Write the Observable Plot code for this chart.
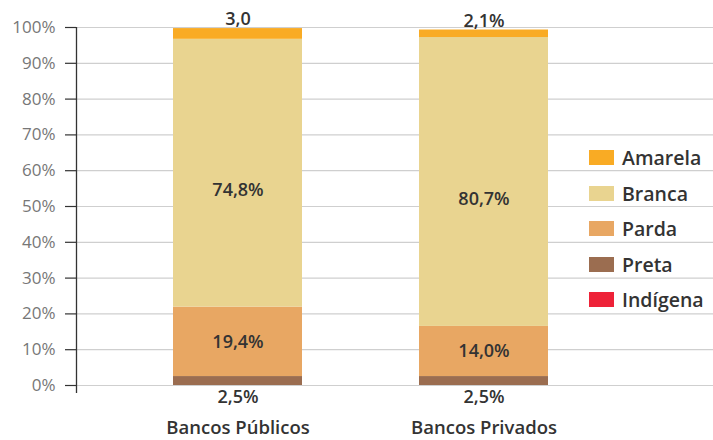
<!DOCTYPE html>
<html>
<head>
<meta charset="utf-8">
<script src="https://cdn.jsdelivr.net/npm/d3@7"></script>
<script src="https://cdn.jsdelivr.net/npm/@observablehq/plot@0.6"></script>
<style>
  body { margin: 0; background: #fff; }
  #wrap { position: relative; width: 713px; height: 440px; font-family: "Open Sans", sans-serif; }
  #legend { position: absolute; left: 589px; top: 140px; }
  .row { display: flex; align-items: center; height: 35.5px; }
  .sw { width: 25px; height: 15px; margin-right: 8px; }
  .lb { font-size: 19.5px; font-weight: 600; color: #333; }
</style>
</head>
<body>
<div id="wrap"><div id="legend"></div></div>
<script>
const banks = ["Bancos Públicos", "Bancos Privados"];
const races = ["Indígena", "Preta", "Parda", "Branca", "Amarela"]; // bottom to top
const legendOrder = ["Amarela", "Branca", "Parda", "Preta", "Indígena"];
const colors = ["#EE2238", "#9B6D50", "#E8A763", "#E9D490", "#F9AB24"];
const indigena = [0, 0];
const preta = [2.5, 2.5];
const parda = [19.4, 14.0];
const branca = [74.8, 80.7];
const amarela = [3.0, 2.1];
const amarelaLabels = ["3,0", "2,1%"];
const yTicks = [0, 10, 20, 30, 40, 50, 60, 70, 80, 90, 100];

const series = {"Indígena": indigena, "Preta": preta, "Parda": parda, "Branca": branca, "Amarela": amarela};
const fmt = v => v.toFixed(1).replace(".", ",") + "%";

const rows = [];
banks.forEach((b, i) => {
  let acc = 0;
  races.forEach(r => {
    const v = series[r][i];
    rows.push({bank: b, race: r, value: v, y1: acc, y2: acc + v, mid: acc + v / 2});
    acc += v;
  });
});
const rowOf = (race) => rows.filter(d => d.race === race);

const font = "Open Sans, sans-serif";
const lab = {fontSize: 18, fontWeight: 600, fill: "#333"};
const chart = Plot.plot({
  width: 713,
  height: 440,
  marginLeft: 76,
  marginRight: 0,
  marginTop: 27,
  marginBottom: 55,
  style: {fontFamily: font, background: "#fff"},
  x: {domain: banks, range: [76, 645], paddingInner: 0.474, paddingOuter: 0.389, axis: null},
  y: {domain: [0, 100], axis: null},
  color: {domain: races, range: colors},
  marks: [
    Plot.gridY(yTicks, {stroke: "#cfcfcf", strokeOpacity: 1, strokeWidth: 1.2}),
    Plot.axisY(yTicks, {tickSize: 11, tickPadding: 10, tickFormat: d => d + "%", fontSize: 17, stroke: "#333", fill: "#777", strokeWidth: 1.2}),
    Plot.axisX({tickSize: 0, tickPadding: 35, fontSize: 18.5, fontWeight: 600, fill: "#333", label: null}),
    Plot.rectY(rows.filter(d => d.value > 0), {x: "bank", y1: "y1", y2: "y2", fill: "race"}),
    Plot.text(rowOf("Branca"), {x: "bank", y: "mid", text: d => fmt(d.value), dy: 17, ...lab}),
    Plot.text(rowOf("Parda"), {x: "bank", y: "mid", text: d => fmt(d.value), ...lab}),
    Plot.text(rowOf("Preta"), {x: "bank", y: "y1", text: d => fmt(d.value), dy: 12, ...lab}),
    Plot.text(rowOf("Amarela"), {x: "bank", y: "y2", text: (d, i) => amarelaLabels[i], dy: -9, ...lab})
  ]
});
document.getElementById("wrap").prepend(chart);

// vertical axis line along the left edge of the frame
const ys = chart.scale("y");
d3.select(chart).append("line")
  .attr("x1", 76.5).attr("x2", 76.5)
  .attr("y1", ys.apply(100)).attr("y2", ys.apply(0) + 8)
  .attr("stroke", "#333").attr("stroke-width", 1.3);

const leg = d3.select("#legend");
legendOrder.forEach(r => {
  const row = leg.append("div").attr("class", "row");
  row.append("div").attr("class", "sw").style("background", colors[races.indexOf(r)]);
  row.append("div").attr("class", "lb").text(r);
});
</script>
</body>
</html>
